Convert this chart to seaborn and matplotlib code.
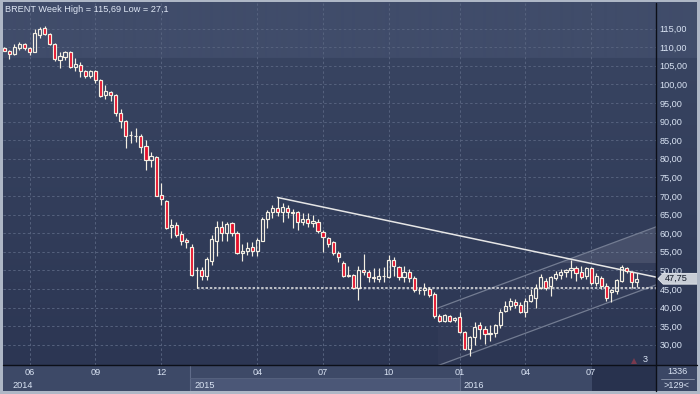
import numpy as np
import pandas as pd
import seaborn as sns
import matplotlib
matplotlib.use('Agg')
import matplotlib.pyplot as plt
from matplotlib.patches import Rectangle, Polygon
from matplotlib.transforms import blended_transform_factory
from matplotlib.ticker import FuncFormatter

sns.set_style('dark')
plt.rcParams['font.family'] = ['Liberation Sans', 'DejaVu Sans']
plt.rcParams['font.size'] = 6.6

# ---- weekly BRENT candles, oldest first ----
opens = [109.7, 109.0, 108.2, 109.9, 110.9, 109.7, 108.8, 113.3, 115.1, 113.5,
         110.9, 106.6, 107.3, 108.6, 104.8, 105.2, 103.6, 102.3, 103.5, 101.2,
         97.2, 98.0, 97.2, 92.2, 90.2, 86.3, 86.0, 86.1, 83.4, 79.7,
         80.5, 70.3, 68.7, 61.6, 62.2, 59.8, 58.2, 56.4, 50.0, 50.1,
         48.6, 52.6, 58.0, 61.6, 60.1, 62.7, 60.1, 54.6, 55.2, 56.2,
         55.2, 58.0, 63.8, 65.6, 66.7, 65.6, 66.9, 65.5, 65.8, 63.1,
         63.7, 62.7, 63.1, 60.2, 58.6, 57.5, 54.8, 51.9, 48.5, 48.8,
         45.3, 50.1, 49.5, 48.0, 47.6, 48.4, 48.2, 52.8, 50.8, 48.2,
         49.6, 47.9, 44.6, 44.6, 44.9, 43.6, 37.7, 36.4, 37.8, 36.7,
         37.4, 33.5, 28.9, 32.2, 35.3, 34.2, 33.0, 33.1, 35.3, 39.1,
         40.5, 41.4, 40.7, 38.7, 41.8, 42.7, 45.2, 47.2, 45.7, 47.9,
         48.8, 49.5, 50.1, 50.7, 49.5, 48.6, 50.7, 46.5, 47.9, 45.9,
         44.1, 44.5, 47.2, 50.7, 49.5, 46.8]
highs = [110.0, 109.3, 110.9, 111.3, 111.2, 110.1, 114.8, 115.5, 115.69, 113.7,
         111.1, 108.8, 109.1, 108.9, 107.0, 105.9, 103.8, 103.8, 103.8, 101.4,
         99.8, 98.1, 97.4, 93.4, 90.4, 87.5, 88.2, 86.7, 85.1, 81.9,
         80.8, 73.4, 69.0, 63.7, 63.1, 60.7, 58.6, 57.0, 50.8, 50.8,
         53.7, 59.5, 63.4, 63.4, 63.0, 63.0, 60.6, 57.1, 57.7, 57.7,
         58.6, 64.3, 66.2, 67.6, 69.6, 68.2, 67.7, 66.4, 66.0, 65.5,
         65.3, 64.8, 63.7, 60.9, 59.0, 57.9, 55.3, 52.5, 51.2, 49.0,
         51.2, 54.4, 50.1, 50.6, 50.6, 51.0, 54.1, 53.5, 51.3, 51.3,
         50.5, 48.5, 45.5, 46.5, 45.5, 44.3, 38.3, 38.4, 38.0, 37.4,
         38.9, 33.8, 32.4, 36.1, 36.1, 35.0, 35.4, 35.5, 39.6, 41.8,
         42.7, 42.2, 41.4, 42.5, 45.0, 46.3, 49.0, 47.9, 48.6, 49.9,
         50.3, 50.3, 52.9, 51.3, 51.3, 51.0, 51.0, 49.2, 48.4, 46.5,
         45.0, 47.7, 51.4, 51.0, 49.8, 49.2]
lows = [108.9, 106.7, 107.9, 109.2, 109.3, 107.9, 108.6, 112.4, 113.2, 110.7,
        106.4, 104.5, 106.6, 104.4, 103.5, 102.1, 101.6, 101.8, 100.3, 96.6,
        96.0, 95.6, 91.6, 88.2, 82.8, 84.2, 84.6, 81.6, 77.0, 77.7,
        69.9, 67.6, 61.2, 58.6, 59.0, 56.8, 55.9, 48.5, 45.19, 47.4,
        47.4, 51.5, 53.9, 57.9, 58.0, 59.2, 54.4, 52.6, 54.1, 53.9,
        54.0, 57.9, 61.3, 64.0, 64.6, 63.1, 64.0, 61.3, 60.9, 62.2,
        61.7, 61.7, 60.0, 55.0, 56.4, 54.1, 52.3, 48.3, 48.3, 45.0,
        42.0, 48.8, 47.0, 47.0, 47.0, 47.0, 47.9, 48.5, 47.5, 47.0,
        47.0, 44.3, 43.7, 43.4, 42.8, 37.3, 36.0, 36.0, 36.2, 36.2,
        33.1, 28.5, 27.1, 29.9, 31.6, 30.2, 31.0, 32.1, 34.6, 38.9,
        39.4, 40.0, 38.5, 37.6, 41.5, 40.0, 45.0, 44.6, 43.2, 47.4,
        47.6, 48.3, 47.9, 47.2, 47.6, 47.6, 46.2, 45.9, 45.0, 41.8,
        41.6, 43.6, 46.8, 49.2, 45.4, 45.6]
closes = [109.1, 108.2, 110.0, 110.8, 109.9, 108.8, 113.8, 114.8, 113.5, 110.9,
          106.8, 107.5, 108.6, 104.8, 105.5, 103.6, 102.3, 103.5, 101.2, 96.9,
          98.3, 97.2, 92.2, 90.2, 86.1, 86.5, 86.2, 83.1, 79.7, 80.8,
          70.1, 69.2, 61.5, 62.2, 59.5, 58.0, 57.6, 48.8, 50.2, 48.6,
          53.1, 58.4, 61.6, 60.1, 62.5, 60.0, 54.6, 55.2, 56.1, 55.2,
          58.2, 63.7, 65.6, 66.7, 65.6, 67.1, 65.6, 65.7, 63.1, 63.7,
          62.7, 63.3, 60.7, 58.9, 57.0, 54.6, 53.5, 48.6, 48.7, 45.3,
          50.1, 49.5, 48.1, 48.2, 48.5, 48.6, 52.8, 51.2, 48.2, 49.6,
          47.9, 44.7, 44.8, 45.2, 43.4, 37.8, 36.4, 38.0, 36.5, 37.1,
          33.4, 28.9, 32.2, 34.9, 34.2, 32.8, 33.2, 35.3, 38.9, 40.5,
          41.8, 40.7, 38.7, 41.8, 43.4, 45.2, 48.3, 45.4, 48.1, 49.0,
          49.5, 50.1, 50.7, 49.2, 48.3, 50.7, 46.5, 48.6, 45.9, 42.7,
          44.7, 47.4, 51.0, 49.8, 46.8, 47.75]

month_ticks = [5, 18, 31, 50, 63, 76, 90, 103, 116]
month_labels = ['06', '09', '12', '04', '07', '10', '01', '04', '07']
year_labels = ['2014', '2015', '2016']
price_ticks = list(range(30, 120, 5))

# drawn trend lines: (week index, price)
resistance_x, resistance_y = [54, 128.8], [69.6, 48.2]
channel_top_x, channel_top_y = [85.7, 128.8], [39.9, 61.7]
channel_bot_x, channel_bot_y = [85.7, 128.8], [24.4, 46.1]
shade_floor = 52.0

df = pd.DataFrame({'open': opens, 'high': highs, 'low': lows, 'close': closes})
df['week'] = np.arange(len(df))
df['top'] = df[['open', 'close']].max(axis=1)
df['bot'] = df[['open', 'close']].min(axis=1)
up = df['close'] >= df['open']

CREAM = '#f4efe2'
RED = '#e4102b'
TXT = '#d9e3f3'

fig = plt.figure(figsize=(7, 3.94), dpi=100)
fig.patch.set_facecolor('#2e3855')

# ---- background in pixel coordinates ----
bg = fig.add_axes([0, 0, 1, 1], zorder=0)
bg.set_xlim(0, 700)
bg.set_ylim(394, 0)
bg.axis('off')
grad = np.ones((394, 1, 3))
grad[:58, 0] = np.array([0x40, 0x4c, 0x6a]) / 255
t = np.linspace(0, 1, 394 - 58)[:, None]
c1 = np.array([0x38, 0x44, 0x61]) / 255
c2 = np.array([0x2b, 0x35, 0x52]) / 255
grad[58:, 0] = c1 * (1 - t) + c2 * t
bg.imshow(grad, extent=(0, 700, 394, 0), aspect='auto', interpolation='bilinear')
# bottom date band
bg.add_patch(Rectangle((3, 365), 653, 26, color='#3d4967', lw=0))
bg.add_patch(Rectangle((190, 378), 270, 13, color='#4b5777', lw=0))
bg.add_patch(Rectangle((592, 365), 64, 26, color='#28324e', lw=0))
bg.add_patch(Rectangle((656, 365), 41, 26, color='#3b4765', lw=0))
for xd in (190, 460):
    bg.plot([xd, xd], [365, 391], color='#5f6b89', lw=0.8)
bg.plot([190, 460], [378, 378], color='#56627f', lw=0.6)

# ---- main chart ----
ax = fig.add_axes([3 / 700, 29 / 394, 653 / 700, 362 / 394], zorder=1)
ax.patch.set_alpha(0)
ax.set_xlim(-0.257, 128.8)
ax.set_ylim(24.57, 121.88)

# channel fill and light patch
ax.add_patch(Polygon(list(zip(channel_top_x + channel_bot_x[::-1],
                              channel_top_y + channel_bot_y[::-1])),
                     closed=True, facecolor='white', alpha=0.02, lw=0, zorder=1))
x_cross = channel_top_x[0] + (shade_floor - channel_top_y[0]) * \
    (channel_top_x[1] - channel_top_x[0]) / (channel_top_y[1] - channel_top_y[0])
ax.add_patch(Polygon([(x_cross, shade_floor), (channel_top_x[1], channel_top_y[1]),
                      (channel_top_x[1], shade_floor)],
                     closed=True, facecolor='#b8bcc6', alpha=0.14, lw=0, zorder=1))

sns.lineplot(x=channel_top_x, y=channel_top_y, ax=ax, color='#737c92', lw=0.9, zorder=2)
sns.lineplot(x=channel_bot_x, y=channel_bot_y, ax=ax, color='#737c92', lw=0.9, zorder=2)
sns.lineplot(x=resistance_x, y=resistance_y, ax=ax, color='#e6e6e6', lw=1.1, zorder=2)
ax.hlines(df['low'][38], 38, 128.8, color='#e8e8e8', lw=1.1,
          linestyles=(0, (1.6, 1.2)), zorder=2)

# candles
ax.vlines(df['week'], df['top'], df['high'], color=CREAM, lw=0.85, zorder=3)
ax.vlines(df['week'], df['low'], df['bot'], color=CREAM, lw=0.85, zorder=3)
ax.bar(df['week'][up], (df['close'] - df['open'])[up], bottom=df['open'][up],
       width=0.62, facecolor='none', edgecolor=CREAM, lw=0.85, zorder=4)
ax.bar(df['week'][~up], (df['open'] - df['close'])[~up], bottom=df['close'][~up],
       width=0.62, facecolor=RED, edgecolor=CREAM, lw=0.85, zorder=4)

# axes styling
ax.set_xticks(month_ticks)
ax.set_xticklabels(month_labels)
ax.set_yticks(price_ticks)
ax.yaxis.set_major_formatter(FuncFormatter(lambda v, p: f'{v:.2f}'.replace('.', ',')))
ax.yaxis.tick_right()
ax.tick_params(axis='y', length=0, pad=2.6, labelsize=6.6, labelcolor=TXT)
ax.tick_params(axis='x', length=0, pad=2.2, labelsize=6.6, labelcolor=TXT)
ax.grid(True, color='#56627e', lw=0.7, ls=(0, (2.5, 2.5)))
for s in ax.spines.values():
    s.set_visible(False)
ax.set_xlabel('')
ax.set_ylabel('')

# last price tag on the right scale
last = df['close'].iloc[-1]
tr = blended_transform_factory(ax.transAxes, ax.transData)
h = 1.45
ax.add_patch(Polygon([(1.003, last), (1.011, last + h), (1.07, last + h),
                      (1.07, last - h), (1.011, last - h)], closed=True,
                     transform=tr, facecolor='#c8cdd6', edgecolor='#e6e9ee',
                     lw=0.6, clip_on=False, zorder=10))
ax.text(1.013, last, f'{last:.2f}'.replace('.', ','), transform=tr, color='#111827',
        fontsize=6.6, va='center', ha='left', clip_on=False, zorder=11)

# ---- overlay: frame, separators, texts ----
ov = fig.add_axes([0, 0, 1, 1], zorder=3)
ov.set_xlim(0, 700)
ov.set_ylim(394, 0)
ov.axis('off')
ov.plot([656, 656], [3, 391], color='#0c0f18', lw=1.0)
ov.plot([3, 697], [365, 365], color='#0c0f18', lw=1.0)
fr = '#aeb7c6'
ov.add_patch(Rectangle((0, 0), 3, 394, color=fr, lw=0))
ov.add_patch(Rectangle((697, 0), 3, 394, color=fr, lw=0))
ov.add_patch(Rectangle((0, 391), 700, 3, color=fr, lw=0))
ov.add_patch(Rectangle((0, 0), 700, 1.5, color=fr, lw=0))

ov.text(5, 9, 'BRENT Week High = 115,69 Low = 27,1', color='#dfe7f5',
        fontsize=6.6, va='center', ha='left')
for lbl, xp in zip(year_labels, (12, 194, 463)):
    ov.text(xp, 386, lbl, color=TXT, fontsize=6.6, va='center', ha='left')
ov.text(677, 372, '1336', color=TXT, fontsize=6.6, va='center', ha='center')
ov.plot([661, 694], [379, 379], color='#8f99ad', lw=0.6)
ov.text(677, 386, '>129<', color=TXT, fontsize=6.6, va='center', ha='center')
ov.text(645, 359, '3', color=TXT, fontsize=6.6, va='center', ha='center')
ov.plot([634], [361], marker='^', ms=4, color='#7a3a4e', mew=0)

fig.savefig('out.png', dpi=100)
